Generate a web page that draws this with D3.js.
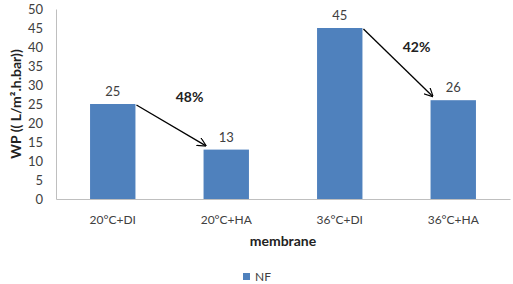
<!DOCTYPE html>
<html>
<head>
<meta charset="utf-8">
<script src="https://cdn.jsdelivr.net/npm/d3@7"></script>
<style>
  body { margin: 0; background: #fff; }
  text { font-family: Lato, "Open Sans", sans-serif; }
</style>
</head>
<body>
<div id="chart"></div>
<script>
// Data
const categories = ["20°C+DI", "20°C+HA", "36°C+DI", "36°C+HA"];
const values = [25, 13, 45, 26];
const yTicks = [0, 5, 10, 15, 20, 25, 30, 35, 40, 45, 50];
const drops = [
  {from: 0, to: 1, label: "48%"},
  {from: 2, to: 3, label: "42%"}
];
const seriesName = "NF";

const W = 513, H = 284;
const margin = {top: 9, right: 3, bottom: 85, left: 56};
const width = W - margin.left - margin.right;
const height = H - margin.top - margin.bottom;

const svg = d3.select("#chart").append("svg")
    .attr("width", W)
    .attr("height", H);

const g = svg.append("g")
    .attr("transform", `translate(${margin.left},${margin.top})`);

const x = d3.scaleBand()
    .domain(categories)
    .range([0, width])
    .paddingInner(0.6)
    .paddingOuter(0.3);

const y = d3.scaleLinear()
    .domain([0, 50])
    .range([height, 0]);

// arrow marker
svg.append("defs").append("marker")
    .attr("id", "arrow")
    .attr("viewBox", "0 0 10 10")
    .attr("refX", 9)
    .attr("refY", 5)
    .attr("markerWidth", 9)
    .attr("markerHeight", 9)
    .attr("markerUnits", "userSpaceOnUse")
    .attr("orient", "auto")
    .append("path")
    .attr("d", "M0,0 L10,5 L0,10")
    .attr("fill", "none")
    .attr("stroke", "#000")
    .attr("stroke-width", 1.3);

// bars
g.selectAll("rect.bar")
    .data(values)
    .join("rect")
    .attr("class", "bar")
    .attr("x", (d, i) => x(categories[i]))
    .attr("y", d => y(d))
    .attr("width", x.bandwidth())
    .attr("height", d => height - y(d))
    .attr("fill", "#4f81bd");

// value labels
g.selectAll("text.val")
    .data(values)
    .join("text")
    .attr("class", "val")
    .attr("x", (d, i) => x(categories[i]) + x.bandwidth() / 2)
    .attr("y", d => y(d) - 8)
    .attr("text-anchor", "middle")
    .attr("font-size", 13)
    .attr("fill", "#404040")
    .text(d => d);

// axes
const yAxis = g.append("g")
    .call(d3.axisLeft(y).tickValues(yTicks).tickSize(0).tickPadding(13));
yAxis.select(".domain").attr("stroke", "#bfbfbf");
yAxis.selectAll("text").attr("font-size", 13).attr("fill", "#404040")
    .style("font-family", "Lato, 'Open Sans', sans-serif");

const xAxis = g.append("g")
    .attr("transform", `translate(0,${height})`)
    .call(d3.axisBottom(x).tickSize(0).tickPadding(16));
xAxis.select(".domain").attr("stroke", "#bfbfbf");
xAxis.selectAll("text").attr("font-size", 12).attr("fill", "#404040")
    .style("font-family", "Lato, 'Open Sans', sans-serif");

// drop arrows
drops.forEach(dp => {
  const x1 = x(categories[dp.from]) + x.bandwidth() + 1;
  const y1 = y(values[dp.from]) + 1;
  const x2 = x(categories[dp.to]) + 2;
  const y2 = y(values[dp.to]) - 4;
  g.append("line")
    .attr("x1", x1).attr("y1", y1)
    .attr("x2", x2).attr("y2", y2)
    .attr("stroke", "#000")
    .attr("stroke-width", 1.3)
    .attr("marker-end", "url(#arrow)");
  g.append("text")
    .attr("x", x(categories[dp.to]) - 14)
    .attr("y", y(values[dp.to]) - 48)
    .attr("text-anchor", "middle")
    .attr("font-size", 14)
    .attr("font-weight", "bold")
    .attr("fill", "#222")
    .text(dp.label);
});

// axis titles
g.append("text")
    .attr("x", width / 2)
    .attr("y", height + 47)
    .attr("text-anchor", "middle")
    .attr("font-size", 14)
    .attr("font-weight", "bold")
    .attr("fill", "#222")
    .text("membrane");

svg.append("text")
    .attr("transform", `translate(21,${margin.top + height / 2}) rotate(-90)`)
    .attr("text-anchor", "middle")
    .attr("font-size", 14)
    .attr("font-weight", "bold")
    .attr("fill", "#222")
    .text("WP (( L/m².h.bar))");

// legend
const legend = svg.append("g").attr("transform", "translate(243,273)");
legend.append("rect")
    .attr("width", 7).attr("height", 7)
    .attr("fill", "#4f81bd");
legend.append("text")
    .attr("x", 12).attr("y", 8)
    .attr("font-size", 12)
    .attr("fill", "#404040")
    .text(seriesName);
</script>
</body>
</html>
